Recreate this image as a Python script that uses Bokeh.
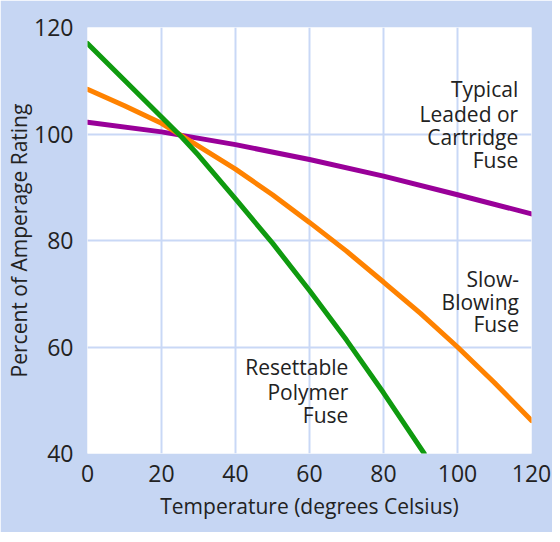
from bokeh.plotting import figure
from bokeh.models import Label, Range1d, FixedTicker
from bokeh.embed import file_html
from bokeh.resources import INLINE

# Data
temp_typical = [0, 20, 40, 60, 80, 100, 120]
pct_typical = [102.2, 100.4, 98.0, 95.2, 92.1, 88.6, 85.0]

temp_slow = [0, 10, 20, 30, 40, 50, 60, 70, 80, 90, 100, 110, 120]
pct_slow = [108.4, 105.3, 102.0, 97.7, 93.4, 88.6, 83.4, 78.0, 72.2, 66.3, 60.0, 53.3, 46.2]

temp_poly = [0, 10, 20, 25.5, 30, 40, 50, 60, 70, 80, 91]
pct_poly = [117.0, 110.1, 103.2, 99.4, 96.0, 87.8, 79.5, 70.6, 61.3, 51.4, 40.0]

x_ticks = [0, 20, 40, 60, 80, 100, 120]
y_ticks = [40, 60, 80, 100, 120]

labels_typical = ["Typical", "Leaded or", "Cartridge", "Fuse"]
labels_slow = ["Slow-", "Blowing", "Fuse"]
labels_poly = ["Resettable", "Polymer", "Fuse"]

FONT = "Open Sans"
BG = "#c6d6f3"
GRID = "#c9d8f6"
TXT = "#222222"

p = figure(width=552, height=532, output_backend="svg", toolbar_location=None,
           x_range=Range1d(0, 120), y_range=Range1d(40, 120),
           min_border_left=87, min_border_right=21, min_border_top=27, min_border_bottom=79)
p.background_fill_color = "white"
p.border_fill_color = BG
p.outline_line_color = None

for ax in (p.xaxis[0], p.yaxis[0]):
    ax.axis_line_color = None
    ax.major_tick_line_color = None
    ax.minor_tick_line_color = None
    ax.major_label_text_font = FONT
    ax.major_label_text_font_size = "23px"
    ax.major_label_text_color = TXT
    ax.axis_label_text_font = FONT
    ax.axis_label_text_font_size = "21px"
    ax.axis_label_text_font_style = "normal"
    ax.axis_label_text_color = TXT

p.xaxis.ticker = FixedTicker(ticks=x_ticks)
p.yaxis.ticker = FixedTicker(ticks=y_ticks)
p.xaxis.major_label_standoff = 5
p.yaxis.major_label_standoff = 8
p.xaxis.axis_label = "Temperature (degrees Celsius)"
p.yaxis.axis_label = "Percent of Amperage Rating"
p.xaxis.axis_label_standoff = 7
p.yaxis.axis_label_standoff = -2

p.xgrid.ticker = FixedTicker(ticks=x_ticks)
p.ygrid.ticker = FixedTicker(ticks=y_ticks)
p.grid.grid_line_color = GRID
p.grid.grid_line_width = 2

p.line(temp_typical, pct_typical, line_color="#990099", line_width=5, line_cap="round")
p.line(temp_slow, pct_slow, line_color="#ff8200", line_width=5, line_cap="round")
p.line(temp_poly, pct_poly, line_color="#0f9a0f", line_width=5, line_cap="round")

def add_block(lines, x, ys):
    for t, y in zip(lines, ys):
        p.add_layout(Label(x=x, y=y, text=t, text_align="right", text_baseline="middle",
                           text_font=FONT, text_font_size="21px", text_color=TXT))

add_block(labels_typical, 116.4, [108.4, 103.7, 99.4, 95.1])
add_block(labels_slow, 116.6, [72.8, 68.4, 64.35])
add_block(labels_poly, 70.5, [56.3, 51.55, 47.3])

open("out.html", "w").write(file_html(p, INLINE))
